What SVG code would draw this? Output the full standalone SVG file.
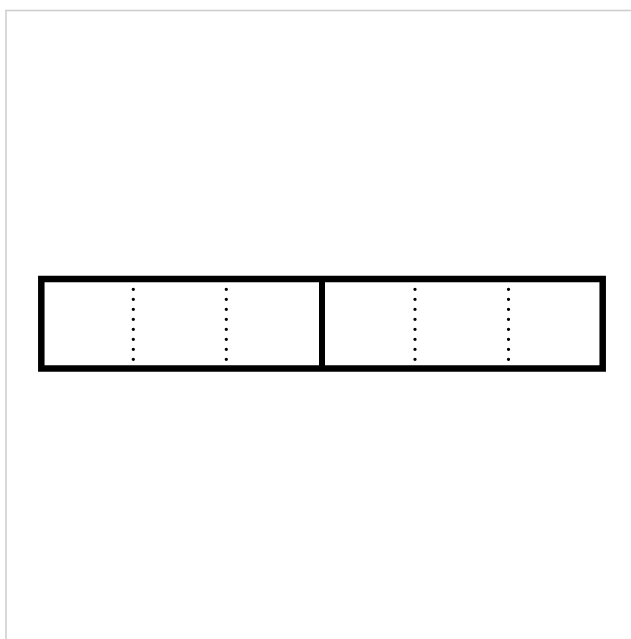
<svg xmlns="http://www.w3.org/2000/svg" width="631" height="639" viewBox="0 0 631 639">
<style>
.frame{fill:none;stroke:#cccccc;stroke-width:1.5}
.box{fill:#ffffff;stroke:#000000;stroke-width:6.5}
.div{stroke:#000000;stroke-width:6}
.dots{stroke:#000000;stroke-width:3.3;stroke-linecap:round;stroke-dasharray:0 10;fill:none}
</style>
<rect x="0" y="0" width="631" height="639" fill="#ffffff"/>
<rect class="frame" x="6" y="10.5" width="700" height="700"/>
<g id="bar">
<rect class="box" x="41.3" y="279" width="561.4" height="89.5"/>
</g>
<g id="connectors">
<line class="div" x1="322" y1="279" x2="322" y2="368.5"/>
<line class="dots" x1="133.3" y1="289.3" x2="133.3" y2="362"/>
<line class="dots" x1="226.3" y1="289.3" x2="226.3" y2="362"/>
<line class="dots" x1="415" y1="289.3" x2="415" y2="362"/>
<line class="dots" x1="508.5" y1="289.3" x2="508.5" y2="362"/>
</g>
</svg>
